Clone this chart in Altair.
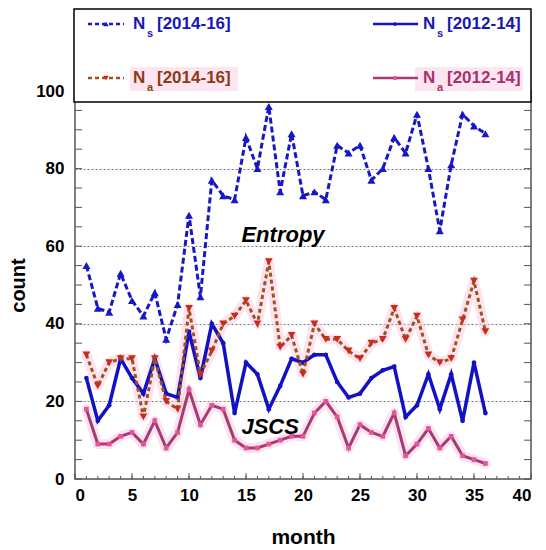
import altair as alt
import pandas as pd

months = list(range(1, 37))
ns_1416 = [55, 44, 43, 53, 46, 42, 48, 36, 45, 68, 47, 77, 73, 72, 88, 80, 96, 74, 89,
           73, 74, 72, 86, 84, 86, 77, 80, 88, 84, 94, 80, 64, 81, 94, 91, 89]
ns_1214 = [26, 15, 19, 31, 26, 22, 31, 22, 21, 38, 26, 40, 35, 17, 30, 27, 18, 24, 31,
           30, 32, 32, 25, 21, 22, 26, 28, 29, 16, 19, 27, 18, 27, 15, 30, 17]
na_1416 = [32, 24, 30, 31, 31, 16, 31, 20, 18, 44, 27, 33, 40, 42, 46, 40, 56, 34, 37,
           27, 40, 36, 36, 33, 31, 35, 36, 44, 36, 42, 32, 30, 31, 41, 51, 38]
na_1214 = [18, 9, 9, 11, 12, 9, 15, 8, 12, 23, 14, 19, 18, 10, 8, 8, 9, 10, 11,
           11, 17, 20, 16, 8, 14, 12, 11, 17, 6, 9, 13, 8, 11, 6, 5, 4]
x_ticks = list(range(0, 41, 5))
y_ticks = list(range(0, 101, 20))
x_minor = list(range(0, 41))
y_minor = list(range(0, 101, 5))

FONT = "Liberation Sans"
W, H = 456, 388

xs = alt.Scale(domain=[0, 40], nice=False, zero=False)
ys = alt.Scale(domain=[0, 100], nice=False)
xaxis = alt.Axis(values=x_ticks, title="month", grid=False, ticks=False, domain=False,
                 labelPadding=8, titleX=228, titleY=58, titleBaseline="middle",
                 titleAlign="center")
yaxis = alt.Axis(values=y_ticks, title="count", grid=True, gridDash=[2, 2],
                 gridColor="#777", gridWidth=1, ticks=False, domain=False,
                 labelPadding=11, titleX=-57, titleY=194, titleAngle=270,
                 titleBaseline="middle", titleAlign="center")


def X(f):
    return alt.X(f"{f}:Q", scale=xs, axis=xaxis)


def Y(f):
    return alt.Y(f"{f}:Q", scale=ys, axis=yaxis)


def frame(vals):
    return pd.DataFrame({"month": months, "v": vals})


one = pd.DataFrame({"k": [0]})

layers = []

# pink halos under the Na series
for vals in (na_1214, na_1416):
    layers.append(alt.Chart(frame(vals)).mark_line(
        color="#fac8e2", strokeWidth=10, opacity=0.5, strokeJoin="round", strokeCap="round"
    ).encode(x=X("month"), y=Y("v")))

series = [
    (na_1214, "#a63a72", [], 3, "square", "#e2559c", 22),
    (ns_1214, "#1212c4", [], 3.5, "circle", "#1212c4", 22),
    (na_1416, "#a0521c", [4, 3], 3, "triangle-down", "#cc2a1a", 60),
    (ns_1416, "#1717c8", [6, 3], 3, "triangle-up", "#1717c8", 65),
]
for vals, lc, dash, sw, shape, pc, size in series:
    kw = dict(color=lc, strokeWidth=sw)
    if dash:
        kw["strokeDash"] = dash
    layers.append(alt.Chart(frame(vals)).mark_line(**kw).encode(x=X("month"), y=Y("v")))
    layers.append(alt.Chart(frame(vals)).mark_point(
        shape=shape, filled=True, size=size, color=pc, opacity=1
    ).encode(x=X("month"), y=Y("v")))

# inward ticks (drawn through the scales)
xt = pd.DataFrame({"t": x_minor})
xt_major = pd.DataFrame({"t": x_ticks})
yt = pd.DataFrame({"t": y_minor})
layers.append(alt.Chart(xt).mark_rule(color="#555", strokeWidth=1).encode(
    x=X("t"), y=alt.value(H), y2=alt.value(H - 3)))
layers.append(alt.Chart(xt_major).mark_rule(color="#555", strokeWidth=1).encode(
    x=X("t"), y=alt.value(H), y2=alt.value(H - 6)))
layers.append(alt.Chart(yt).mark_rule(color="#555", strokeWidth=1).encode(
    y=Y("t"), x=alt.value(0), x2=alt.value(7)))
layers.append(alt.Chart(yt).mark_rule(color="#555", strokeWidth=1).encode(
    y=Y("t"), x=alt.value(W), x2=alt.value(W - 7)))

# annotations
layers.append(alt.Chart(pd.DataFrame({"x": [14.6], "y": [63], "s": ["Entropy"]})).mark_text(
    align="left", baseline="middle", font=FONT, fontSize=22, fontWeight="bold",
    fontStyle="italic", color="black").encode(x=X("x"), y=Y("y"), text="s:N"))
layers.append(alt.Chart(pd.DataFrame({"x": [14.6], "y": [13.5], "s": ["JSCS"]})).mark_text(
    align="left", baseline="middle", font=FONT, fontSize=22, fontWeight="bold",
    fontStyle="italic", color="black").encode(x=X("x"), y=Y("y"), text="s:N"))

# legend box
layers.append(alt.Chart(one).mark_rect(fill="white", stroke="black", strokeWidth=1.5).encode(
    x=alt.value(-1), x2=alt.value(W), y=alt.value(-82), y2=alt.value(11)))

legend_items = [
    # subscript, years, text colour, line colour, dash, shape, marker colour, col x, row y, highlight
    ("s", "[2014-16]", "#1818b8", "#1717c8", [4, 3], "triangle-up", "#1717c8", 13, -67, False),
    ("s", "[2012-14]", "#1818b0", "#1212c4", [], "circle", "#1212c4", 298, -67, False),
    ("a", "[2014-16]", "#8e3a14", "#a0521c", [4, 3], "triangle-down", "#cc2a1a", 13, -13, True),
    ("a", "[2012-14]", "#a8306c", "#a63a72", [], "square", "#e2559c", 298, -13, True),
]
for sub, yrs, tc, lc, dash, shape, pc, x0, y0, hl in legend_items:
    if hl:
        layers.append(alt.Chart(one).mark_rect(fill="#fde6f2").encode(
            x=alt.value(x0 + 42), x2=alt.value(x0 + 150),
            y=alt.value(y0 - 11), y2=alt.value(y0 + 13)))
    kw = dict(color=lc, strokeWidth=2.5)
    if dash:
        kw["strokeDash"] = dash
    layers.append(alt.Chart(one).mark_rule(**kw).encode(
        x=alt.value(x0), x2=alt.value(x0 + 36 if dash else x0 + 45), y=alt.value(y0)))
    layers.append(alt.Chart(one).mark_point(
        shape=shape, filled=True, size=30 if "tri" in shape else 14, color=pc, opacity=1
    ).encode(x=alt.value(x0 + 18 if dash else x0 + 22), y=alt.value(y0)))
    tx = x0 + 45 if dash else x0 + 50
    layers.append(alt.Chart(one).mark_text(
        text="N", align="left", baseline="middle", font=FONT, fontSize=17,
        fontWeight="bold", color=tc).encode(x=alt.value(tx), y=alt.value(y0)))
    layers.append(alt.Chart(one).mark_text(
        text=sub, align="left", baseline="middle", font=FONT, fontSize=11,
        fontWeight="bold", color=tc).encode(x=alt.value(tx + 14), y=alt.value(y0 + 10)))
    layers.append(alt.Chart(one).mark_text(
        text=yrs, align="left", baseline="middle", font=FONT, fontSize=17,
        fontWeight="bold", color=tc).encode(x=alt.value(tx + 24), y=alt.value(y0)))

chart = alt.layer(*layers).properties(
    width=W, height=H, autosize="none",
    padding={"left": 67, "top": 83, "right": 7, "bottom": 70},
).configure_view(stroke="#555", strokeWidth=1.5).configure_axis(
    labelFont=FONT, labelFontSize=17, labelFontWeight="bold", labelColor="black",
    titleFont=FONT, titleFontWeight="bold", titleColor="black", titleFontSize=21,
).configure_axisY(titleFontSize=20)

chart.save("out.html", embed_options={"renderer": "svg", "actions": False})
